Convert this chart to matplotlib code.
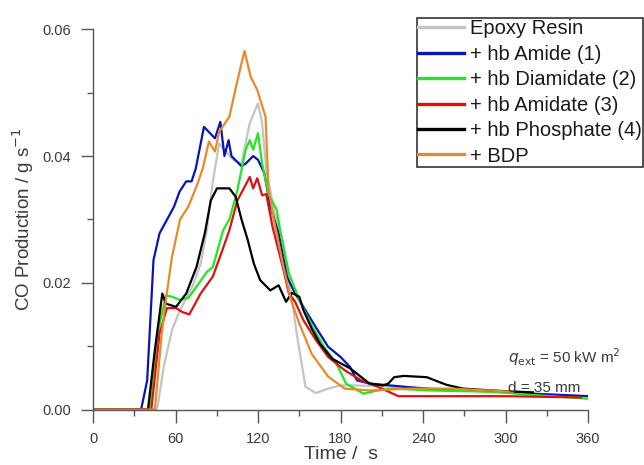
import matplotlib
matplotlib.use("Agg")
import matplotlib.pyplot as plt
from matplotlib.ticker import MultipleLocator, FormatStrFormatter

plt.rcParams['font.family'] = ['Liberation Sans', 'DejaVu Sans']

# ---------------- data ----------------
labels = ["Epoxy Resin", "+ hb Amide (1)", "+ hb Diamidate (2)",
          "+ hb Amidate (3)", "+ hb Phosphate (4)", "+ BDP"]
colors = ["#c4c4c4", "#0a14b4", "#22e622", "#dd1111", "#000000", "#e8892a"]

t_epoxy = [0, 46, 47, 51.4, 57.4, 63.3, 72.3, 78.3, 82.8, 87.2, 91.7, 95.6, 102, 108, 111, 114, 120,
           123, 126, 132, 138, 144, 148.5, 154.5, 162, 171, 180, 192, 216, 260, 305, 360]
y_epoxy = [0, 0, 0.0005, 0.0067, 0.0125, 0.0157, 0.0194, 0.023, 0.0283, 0.036, 0.042, 0.041, 0.0394,
           0.0388, 0.042, 0.0452, 0.0483, 0.0452, 0.0378, 0.031, 0.0267, 0.0183, 0.0115, 0.0036,
           0.0026, 0.0033, 0.0038, 0.0038, 0.0036, 0.0032, 0.0026, 0.0021]

t_amide = [0, 35, 39.4, 44, 48.4, 51.4, 58.9, 63, 67.8, 71.7, 74.7, 80.7, 88.7, 92.6, 95.6, 98.6,
           100.7, 108, 111, 116.5, 120, 124.6, 129, 135, 141, 147, 153, 162, 171, 180, 187, 192,
           201, 216, 231, 260, 290, 320, 360]
y_amide = [0, 0, 0.0046, 0.0236, 0.0278, 0.029, 0.032, 0.0344, 0.036, 0.036, 0.038, 0.0446, 0.0428,
           0.0454, 0.040, 0.0425, 0.040, 0.0384, 0.0388, 0.040, 0.0394, 0.0373, 0.032, 0.0278,
           0.021, 0.0183, 0.0162, 0.013, 0.0099, 0.0083, 0.0067, 0.0046, 0.0041, 0.0038, 0.0035,
           0.003, 0.0029, 0.0025, 0.0021]

t_diamid = [0, 41, 47, 53, 57.4, 63, 69.3, 75.3, 82.8, 87.2, 94.7, 99.2, 105, 111, 114, 116.5, 120,
            123, 127.6, 133.6, 136.5, 142.5, 150, 159, 168, 177, 184, 196.6, 207, 218.7, 246, 290,
            320, 360]
y_diamid = [0, 0, 0.012, 0.018, 0.0178, 0.0173, 0.0176, 0.0194, 0.0217, 0.0225, 0.0283, 0.030,
            0.0346, 0.041, 0.0425, 0.041, 0.0436, 0.0388, 0.034, 0.0315, 0.0278, 0.0215, 0.0173,
            0.0133, 0.0099, 0.0073, 0.0041, 0.0025, 0.003, 0.0033, 0.003, 0.0028, 0.0023, 0.0017]

t_amidat = [0, 42.4, 48.4, 53.8, 60.4, 64.8, 70, 78.3, 87.2, 93.2, 99.2, 105, 110.4, 114, 116.5,
            119.5, 123, 126, 130.6, 138, 142.5, 147, 153, 162, 171, 183, 195, 207, 222, 260, 300,
            355]
y_amidat = [0, 0, 0.012, 0.016, 0.016, 0.0154, 0.0150, 0.0183, 0.021, 0.0246, 0.0283, 0.033,
            0.0352, 0.0367, 0.0349, 0.0365, 0.0338, 0.034, 0.0288, 0.0225, 0.0183, 0.017, 0.0141,
            0.011, 0.0083, 0.0062, 0.0046, 0.0036, 0.0021, 0.0021, 0.0021, 0.0019]

t_phos = [0, 40, 45, 50.4, 53, 60.4, 67.8, 75.3, 81.3, 85.7, 90.2, 99.2, 103.7, 108, 112.6, 117,
          121.6, 129, 135, 140.4, 144.6, 150, 153, 159, 165, 174, 187, 201, 211, 214.8, 219, 226,
          242.7, 257, 269, 290, 320]
y_phos = [0, 0, 0.0094, 0.0183, 0.0167, 0.0162, 0.0183, 0.0225, 0.0278, 0.033, 0.0349, 0.0349,
          0.0336, 0.030, 0.0267, 0.023, 0.0204, 0.0188, 0.0196, 0.017, 0.0184, 0.0178, 0.0157,
          0.0128, 0.0104, 0.008, 0.0065, 0.0041, 0.0038, 0.0041, 0.0051, 0.0053, 0.0051, 0.0039,
          0.0033, 0.003, 0.0027]

t_bdp = [0, 45, 50, 53, 57.4, 63.3, 69.3, 75.3, 79.8, 84.3, 88.7, 91.7, 99.2, 104.6, 110.2, 114.7,
         119.5, 125.5, 127.6, 130.6, 138, 144, 150, 159, 171, 183, 201, 231, 260, 305]
y_bdp = [0, 0, 0.012, 0.0173, 0.024, 0.030, 0.032, 0.0352, 0.038, 0.0423, 0.0407, 0.0438, 0.0462,
         0.0515, 0.0566, 0.0525, 0.0504, 0.0462, 0.035, 0.031, 0.023, 0.0173, 0.0136, 0.0088,
         0.0052, 0.0033, 0.003, 0.0033, 0.0033, 0.0028]

series_t = [t_epoxy, t_amide, t_diamid, t_amidat, t_phos, t_bdp]
series_y = [y_epoxy, y_amide, y_diamid, y_amidat, y_phos, y_bdp]

x_ticks = [0, 60, 120, 180, 240, 300, 360]
y_ticks = [0.00, 0.02, 0.04, 0.06]

# ---------------- figure ----------------
fig = plt.figure(figsize=(6.44, 4.65), dpi=100)
ax = fig.add_axes([93 / 644, 1 - 409.5 / 465, (588 - 93) / 644, (409.5 - 29.3) / 465])

txt = "#3a3a3a"
lines = []
for t, y, c, lab in zip(series_t, series_y, colors, labels):
    ln, = ax.plot(t, y, color=c, lw=1.6, label=lab)
    lines.append(ln)

ax.set_xlim(0, 360)
ax.set_ylim(0, 0.06)
ax.set_xticks(x_ticks)
ax.set_yticks(y_ticks)
ax.yaxis.set_major_formatter(FormatStrFormatter('%.2f'))
ax.xaxis.set_minor_locator(MultipleLocator(30))
ax.yaxis.set_minor_locator(MultipleLocator(0.01))

for s in ['top', 'right']:
    ax.spines[s].set_visible(False)
for s in ['left', 'bottom']:
    ax.spines[s].set_color('#555555')
    ax.spines[s].set_linewidth(1.0)

ax.tick_params(which='major', direction='out', length=9, width=1.0, color='#555555',
               labelsize=10.5, labelcolor=txt, pad=7)
ax.tick_params(which='minor', direction='out', length=4, width=1.0, color='#555555')

ax.set_xlabel("Time /  s", fontsize=14, color=txt, labelpad=0)
ax.set_ylabel("CO Production / g s$^{-1}$", fontsize=13.5, color=txt, labelpad=4)

ax.text(302, 0.0083, "$q_{\\mathrm{ext}}$ = 50 kW m$^{2}$", fontsize=11, color=txt,
        va='center', ha='left')
ax.text(302, 0.0034, "d = 35 mm", fontsize=11, color=txt, va='center', ha='left')

leg = fig.legend(handles=lines, labels=labels, loc='upper right',
                 bbox_to_anchor=(643 / 644, 1 - 18.3 / 465), bbox_transform=fig.transFigure,
                 fontsize=14.5, frameon=True, fancybox=False, shadow=False,
                 borderpad=0.05, borderaxespad=0.0, handlelength=2.3, handletextpad=0.3,
                 labelspacing=0.32)
leg.get_frame().set_edgecolor('#000000')
leg.get_frame().set_linewidth(1.2)
for tx in leg.get_texts():
    tx.set_color('#1a1a1a')
for lh in leg.get_lines():
    lh.set_linewidth(2.4)

fig.savefig("out.png", dpi=100)
